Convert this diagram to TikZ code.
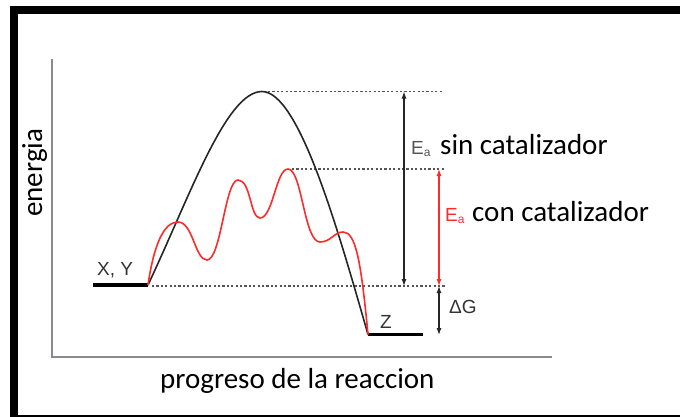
\documentclass[tikz,border=0pt]{standalone}
\usepackage{fontspec}
\setmainfont{Carlito}
\newfontfamily\arialf{Liberation Sans}
\usetikzlibrary{arrows.meta}
\definecolor{axisgray}{HTML}{8A8A92}
\definecolor{dotgray}{HTML}{555555}
\definecolor{labgray}{HTML}{333333}
\definecolor{eagray}{HTML}{555555}
\definecolor{curvered}{HTML}{FF2A2A}
\tikzset{
  axisline/.style={draw=axisgray, line width=2.4pt},
  dotline/.style={draw=dotgray, line width=1.2pt, dash pattern=on 2.2pt off 2.2pt},
  level/.style={draw=black, line width=3.5pt},
  blackcurve/.style={draw=black!85, line width=1.6pt},
  redcurve/.style={draw=curvered, line width=1.6pt},
  dimarrow/.style={line width=1.2pt, {Latex[length=7pt,width=5pt]}-{Latex[length=7pt,width=5pt]}},
  bigtext/.style={font=\fontsize{29}{32}\selectfont, inner sep=0pt, text=black},
  smalltext/.style={font=\arialf\fontsize{19}{21}\selectfont, inner sep=0pt, text=labgray},
}
\newcommand{\subA}{\raisebox{-2pt}{\fontsize{12}{12}\selectfont a}}
\begin{document}
\begin{tikzpicture}[x=1pt, y=-1pt]
\useasboundingbox (0,0) rectangle (680,416);
\clip (0,0) rectangle (680,416);
% frame
\draw[line width=8pt] (14,425) -- (14,10) -- (690,10);
\draw[line width=8pt] (10,418.5) -- (690,418.5);
% axes
\coordinate (ytop) at (52,59);
\coordinate (org) at (52,357);
\coordinate (xend) at (552,357);
\draw[axisline] (ytop) -- (org) -- (xend);
% key points
\coordinate (r) at (148,285);
\coordinate (rs) at (93,285);
\coordinate (p) at (368,334.5);
\coordinate (pe) at (423,334.5);
\coordinate (peak) at (262,91.5);
\coordinate (rpeak) at (288,169);
% dotted lines
\coordinate (d1e) at (442,91.5);
\coordinate (d2e) at (445,169);
\coordinate (d3e) at (445,286);
\draw[dotline] (268,91.5) -- (d1e);
\draw[dotline] (292,169) -- (d2e);
\draw[dotline] (152,286) -- (d3e);
% levels
\draw[level] (rs) -- (r);
\draw[level] (p) -- (pe);
% black curve
\draw[blackcurve] (r) .. controls (190,196) and (226,91.5) .. (peak)
  .. controls (299,91.5) and (338,230) .. (p);
% red curve
\draw[redcurve] (r) .. controls (154,244) and (164,222) .. (178,222)
  .. controls (193,222) and (195,260) .. (207,260)
  .. controls (221,260) and (225,180) .. (238,180)
  .. controls (251,180) and (250,218) .. (260,218)
  .. controls (273,218) and (276,169) .. (rpeak)
  .. controls (302,169) and (304,242) .. (320,242)
  .. controls (331,242) and (334,232) .. (343,232)
  .. controls (356,232) and (361,262) .. (p);
% arrows
\coordinate (a1t) at (404,91.5);
\coordinate (a1b) at (404,286);
\coordinate (a2t) at (439,169);
\coordinate (a2b) at (439,286);
\coordinate (a3b) at (439,335);
\draw[dimarrow, draw=black!85] (a1t) -- (a1b);
\draw[dimarrow, draw=curvered] (a2t) -- (a2b);
\draw[dimarrow, draw=black!85] (a2b) -- (a3b);
% labels
\node[smalltext, anchor=base west] (xy) at (97,275) {X, Y};
\node[smalltext, anchor=base west] (z) at (380,328) {Z};
\node[smalltext, anchor=base west] (dg) at (449,313) {ΔG};
\node[smalltext, text=eagray, anchor=base west] (ea1) at (411,154) {E\subA};
\node[bigtext, anchor=base west] (sin) at (440,154) {sin catalizador};
\node[smalltext, text=curvered, anchor=base west] (ea2) at (445,221) {E\subA};
\node[bigtext, anchor=base west] (con) at (472,221) {con catalizador};
\node[bigtext, anchor=base west] (xl) at (160,388) {progreso de la reaccion};
\node[bigtext, anchor=base west, rotate=90] (yl) at (42,217) {energia};
\end{tikzpicture}
\end{document}
